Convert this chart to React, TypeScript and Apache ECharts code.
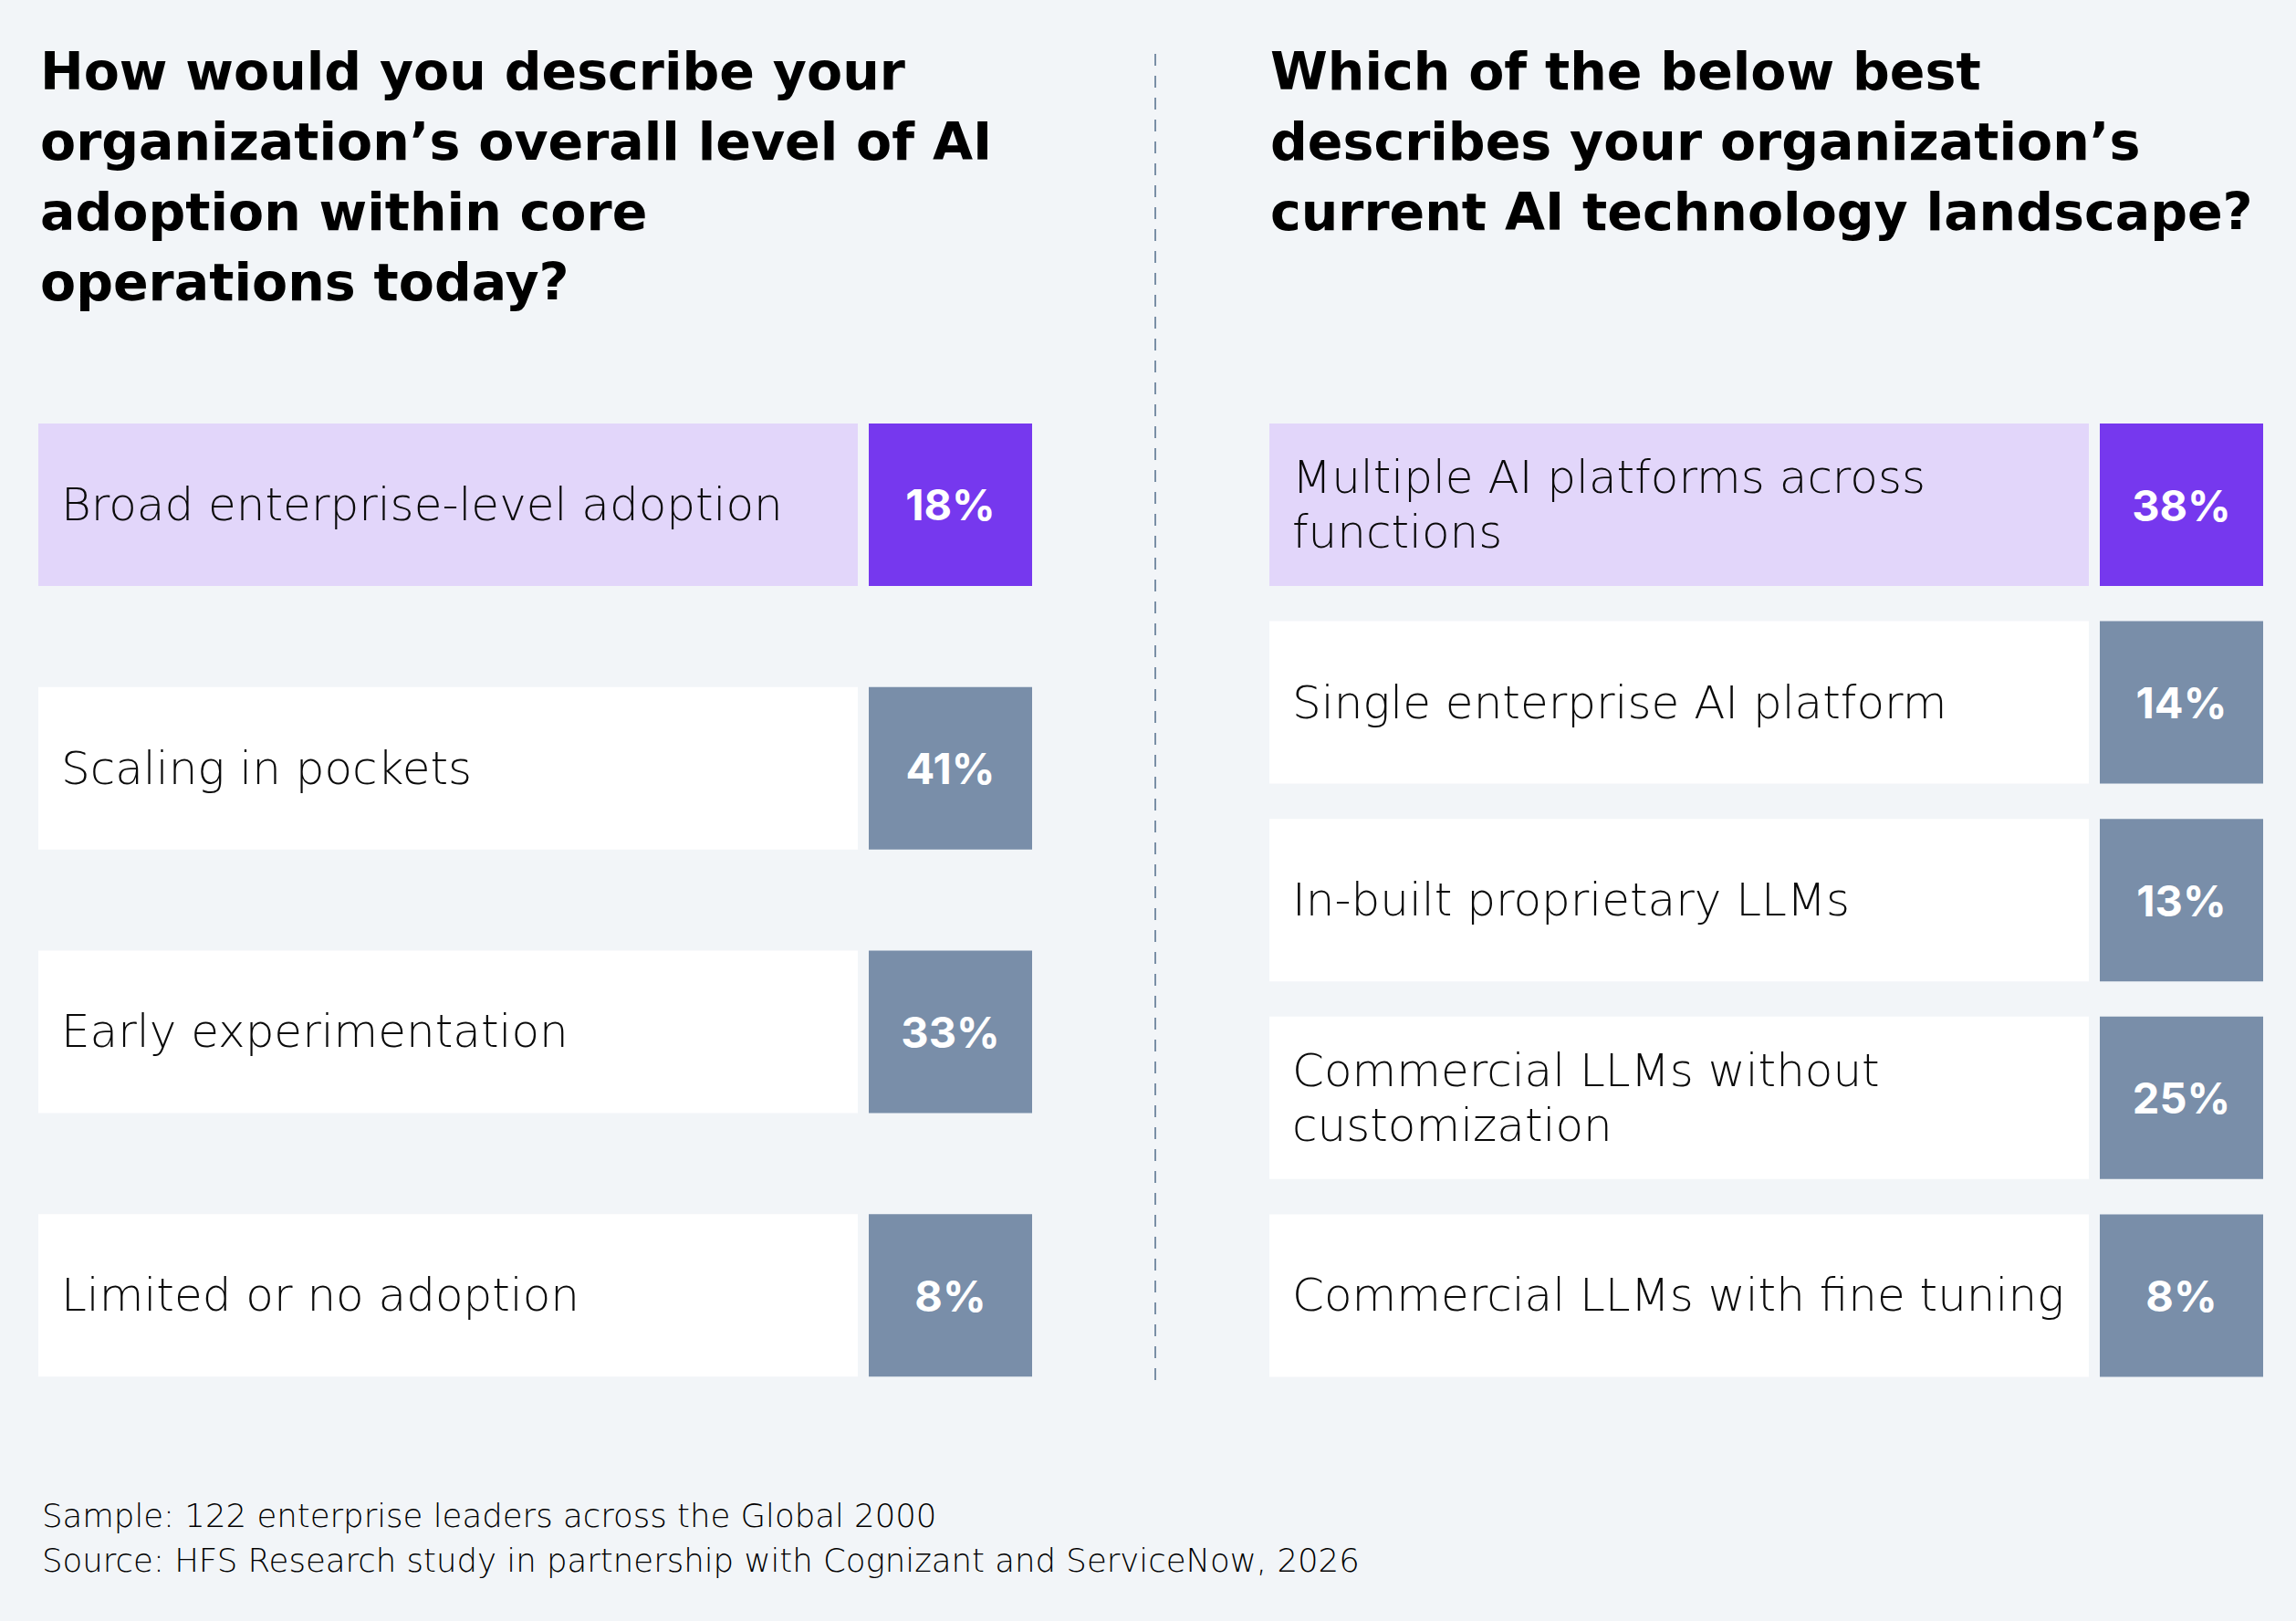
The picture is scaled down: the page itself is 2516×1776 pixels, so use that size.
import React, { useEffect, useRef } from "react";
import * as echarts from "echarts";

const leftTitle = "How would you describe your\norganization’s overall level of AI\nadoption within core\noperations today?";
const rightTitle = "Which of the below best\ndescribes your organization’s\ncurrent AI technology landscape?";

const leftCategories = [
  "Broad enterprise-level adoption",
  "Scaling in pockets",
  "Early experimentation",
  "Limited or no adoption",
];
const leftValues = [18, 41, 33, 8];

const rightCategories = [
  "Multiple AI platforms across\nfunctions",
  "Single enterprise AI platform",
  "In-built proprietary LLMs",
  "Commercial LLMs without\ncustomization",
  "Commercial LLMs with fine tuning",
];
const rightValues = [38, 14, 13, 25, 8];

const footerLines = [
  "Sample: 122 enterprise leaders across the Global 2000",
  "Source: HFS Research study in partnership with Cognizant and ServiceNow, 2026",
];

const BG = "#f2f5f8";
const LAV = "#e2d6fa";
const PURPLE = "#7638ee";
const SLATE = "#798ea9";
const FONT = "'DejaVu Sans', sans-serif";
const BOLD_FONT = "Inter, 'DejaVu Sans', sans-serif";

function makeRender(cats: string[]) {
  return (params: any, api: any) => {
    const cs = params.coordSys;
    const idx = params.dataIndex;
    const yc = api.coord([0, idx])[1];
    const h = 178;
    const valW = 179;
    const gap = 12;
    const labelW = cs.width - valW - gap;
    const hi = idx === 0;
    return {
      type: "group",
      children: [
        {
          type: "rect",
          shape: { x: cs.x, y: yc - h / 2, width: labelW, height: h },
          style: { fill: hi ? LAV : "#ffffff" },
        },
        {
          type: "text",
          x: cs.x + 25,
          y: yc,
          style: {
            text: cats[idx],
            fontSize: 50,
            fontFamily: FONT,
            fontWeight: 300,
            fill: "#0a0a0a",
            align: "left",
            verticalAlign: "middle",
            lineHeight: 60,
          },
        },
        {
          type: "rect",
          shape: { x: cs.x + labelW + gap, y: yc - h / 2, width: valW, height: h },
          style: { fill: hi ? PURPLE : SLATE },
        },
        {
          type: "text",
          x: cs.x + labelW + gap + valW / 2,
          y: yc,
          style: {
            text: api.value(2) + "%",
            fontSize: 47,
            fontFamily: BOLD_FONT,
            fontWeight: 700,
            fill: "#ffffff",
            align: "center",
            verticalAlign: "middle",
          },
        },
      ],
    };
  };
}

export default function App() {
  const ref = useRef<HTMLDivElement>(null);
  useEffect(() => {
    document.body.style.margin = "0";
    document.body.style.background = BG;
    const chart = echarts.init(ref.current!, null, { renderer: "svg" });
    const hiddenX = (gi: number) => ({
      type: "value",
      gridIndex: gi,
      min: 0,
      max: 1,
      show: false,
    });
    const hiddenY = (gi: number, cats: string[]) => ({
      type: "category",
      gridIndex: gi,
      data: cats,
      inverse: true,
      show: false,
    });
    const titleStyle = { fontSize: 57, lineHeight: 77, fontWeight: 700, fontFamily: FONT, color: "#000" };
    chart.setOption({
      animation: false,
      backgroundColor: BG,
      title: [
        { text: leftTitle, left: 39, top: 34, textStyle: titleStyle },
        { text: rightTitle, left: 1387, top: 34, textStyle: titleStyle },
      ],
      grid: [
        { left: 42, width: 1089, top: 408.6, height: 1155 },
        { left: 1391, width: 1089, top: 444.7, height: 1083 },
      ],
      xAxis: [hiddenX(0), hiddenX(1)],
      yAxis: [hiddenY(0, leftCategories), hiddenY(1, rightCategories)],
      series: [
        {
          type: "custom",
          xAxisIndex: 0,
          yAxisIndex: 0,
          renderItem: makeRender(leftCategories),
          encode: { x: 0, y: 1 },
          data: leftValues.map((v, i) => [0, i, v]),
        },
        {
          type: "custom",
          xAxisIndex: 1,
          yAxisIndex: 1,
          renderItem: makeRender(rightCategories),
          encode: { x: 0, y: 1 },
          data: rightValues.map((v, i) => [0, i, v]),
        },
      ],
      graphic: [
        {
          type: "line",
          shape: { x1: 1266, y1: 59, x2: 1266, y2: 1512 },
          style: { stroke: "#7a8fa6", lineWidth: 2, lineDash: [13, 11] },
        },
        {
          type: "text",
          x: 46,
          y: 1636,
          style: {
            text: footerLines.join("\n"),
            fontSize: 35.5,
            lineHeight: 49,
            fontFamily: FONT,
            fontWeight: 300,
            fill: "#000000",
            verticalAlign: "top",
          },
        },
      ],
    });
    return () => chart.dispose();
  }, []);
  return <div ref={ref} style={{ width: 2516, height: 1776 }} />;
}
